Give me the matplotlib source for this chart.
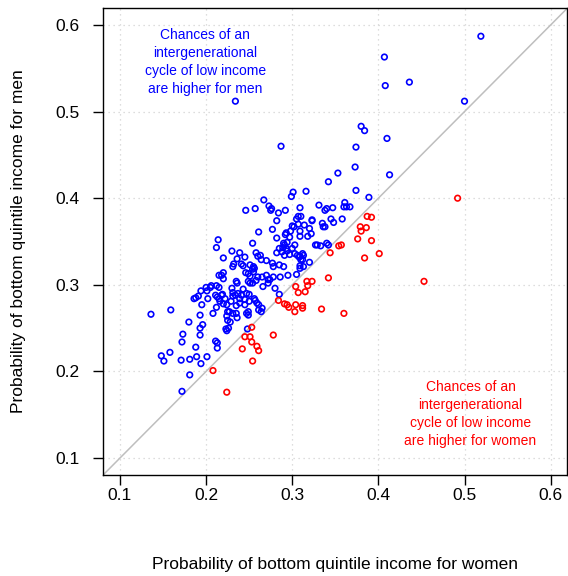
import matplotlib
matplotlib.use("Agg")
import matplotlib.pyplot as plt
import numpy as np

plt.rcParams['font.family'] = ['Liberation Sans', 'DejaVu Sans']

# probability of bottom quintile income: (women, men) per area
# areas where men's chances are higher
men_higher_women = [
    0.234, 0.407, 0.408, 0.436, 0.519, 0.500, 0.287,
    0.136, 0.159, 0.180, 0.173, 0.172, 0.148, 0.151, 0.158, 0.171, 0.181,
    0.188, 0.189, 0.194, 0.201, 0.181, 0.172, 0.193, 0.193, 0.196, 0.193,
    0.191, 0.195, 0.186, 0.188, 0.202, 0.201, 0.205, 0.208, 0.194, 0.200,
    0.206,
    0.214, 0.212, 0.220, 0.230, 0.239, 0.236, 0.232, 0.241, 0.243, 0.246,
    0.257, 0.261, 0.254, 0.258, 0.263, 0.256, 0.254, 0.255, 0.246, 0.249,
    0.220, 0.215, 0.218, 0.220, 0.249, 0.235, 0.236, 0.215, 0.212, 0.211,
    0.213, 0.215, 0.219, 0.220, 0.224, 0.216, 0.218, 0.222, 0.231, 0.231,
    0.234, 0.237, 0.239, 0.241, 0.247, 0.250, 0.251, 0.254, 0.256, 0.259,
    0.261, 0.266, 0.225, 0.224, 0.227, 0.225, 0.228, 0.223, 0.224, 0.211,
    0.213, 0.213, 0.212, 0.226, 0.235, 0.236, 0.247, 0.249, 0.261, 0.264,
    0.230, 0.243, 0.245, 0.239, 0.235, 0.229, 0.231, 0.245, 0.250, 0.249,
    0.257, 0.265, 0.265, 0.270, 0.272, 0.278, 0.286, 0.295, 0.305, 0.280,
    0.274, 0.258, 0.260, 0.251, 0.285, 0.248, 0.272,
    0.301, 0.299, 0.316, 0.267, 0.273, 0.275, 0.276, 0.284, 0.292, 0.309,
    0.282, 0.307, 0.305, 0.307, 0.302, 0.300, 0.309, 0.314, 0.320, 0.323,
    0.318, 0.322, 0.335, 0.336, 0.277, 0.293, 0.298, 0.292, 0.297, 0.294,
    0.290, 0.282, 0.282, 0.285, 0.289, 0.291, 0.293, 0.294, 0.288, 0.291,
    0.297, 0.300, 0.303, 0.303, 0.306, 0.308, 0.312, 0.312, 0.309, 0.313,
    0.320, 0.329, 0.333, 0.340, 0.245, 0.260, 0.264, 0.270, 0.277, 0.285,
    0.290, 0.278, 0.255, 0.251, 0.231,
    0.380, 0.384, 0.410, 0.374, 0.373, 0.353, 0.413, 0.342, 0.374, 0.389,
    0.361, 0.363, 0.367, 0.360, 0.331, 0.340, 0.338, 0.347, 0.310, 0.358,
    0.323, 0.345, 0.348, 0.338, 0.327, 0.342, 0.309, 0.313, 0.309, 0.310,
    0.309,
]
men_higher_men = [
    0.512, 0.563, 0.530, 0.534, 0.587, 0.512, 0.460,
    0.266, 0.271, 0.257, 0.243, 0.234, 0.218, 0.212, 0.222, 0.213, 0.214,
    0.228, 0.217, 0.209, 0.217, 0.196, 0.177, 0.265, 0.250, 0.254, 0.242,
    0.287, 0.277, 0.284, 0.285, 0.284, 0.293, 0.297, 0.267, 0.293, 0.297,
    0.299,
    0.352, 0.343, 0.331, 0.339, 0.337, 0.330, 0.324, 0.324, 0.322, 0.386,
    0.388, 0.361, 0.348, 0.337, 0.334, 0.319, 0.318, 0.315, 0.314, 0.313,
    0.314, 0.311, 0.311, 0.307, 0.304, 0.304, 0.302, 0.297, 0.299, 0.288,
    0.286, 0.284, 0.289, 0.278, 0.277, 0.281, 0.288, 0.284, 0.291, 0.287,
    0.288, 0.290, 0.284, 0.288, 0.290, 0.289, 0.302, 0.302, 0.284, 0.279,
    0.277, 0.298, 0.269, 0.264, 0.269, 0.259, 0.257, 0.249, 0.247, 0.235,
    0.233, 0.227, 0.274, 0.250, 0.267, 0.262, 0.267, 0.269, 0.271, 0.269,
    0.296, 0.295, 0.283, 0.279, 0.276, 0.281, 0.267, 0.277, 0.281, 0.265,
    0.282, 0.273, 0.309, 0.311, 0.306, 0.309, 0.309, 0.311, 0.312, 0.296,
    0.306, 0.305, 0.309, 0.310, 0.289, 0.249, 0.302,
    0.407, 0.402, 0.408, 0.398, 0.391, 0.386, 0.388, 0.383, 0.386, 0.389,
    0.374, 0.379, 0.376, 0.370, 0.367, 0.368, 0.362, 0.369, 0.365, 0.375,
    0.356, 0.359, 0.371, 0.367, 0.364, 0.360, 0.362, 0.358, 0.355, 0.349,
    0.348, 0.354, 0.337, 0.342, 0.343, 0.346, 0.342, 0.339, 0.338, 0.334,
    0.335, 0.342, 0.346, 0.336, 0.334, 0.332, 0.336, 0.329, 0.322, 0.321,
    0.326, 0.346, 0.345, 0.348, 0.332, 0.333, 0.329, 0.328, 0.325, 0.323,
    0.321, 0.321, 0.321, 0.323, 0.321,
    0.483, 0.478, 0.469, 0.459, 0.436, 0.429, 0.427, 0.419, 0.409, 0.401,
    0.395, 0.390, 0.390, 0.390, 0.392, 0.388, 0.386, 0.389, 0.379, 0.376,
    0.374, 0.376, 0.372, 0.367, 0.346, 0.346, 0.356, 0.334, 0.333, 0.329,
    0.319,
]

# areas where women's chances are higher
women_higher_women = [
    0.492, 0.453, 0.387, 0.392, 0.379, 0.386, 0.380, 0.376, 0.392, 0.384,
    0.401, 0.354, 0.357, 0.344, 0.342, 0.334, 0.360, 0.317, 0.323, 0.318,
    0.304, 0.307, 0.315, 0.284, 0.291, 0.294, 0.296, 0.304, 0.312, 0.312,
    0.303, 0.253, 0.245, 0.251, 0.253, 0.259, 0.261, 0.242, 0.278, 0.254,
    0.208, 0.224,
]
women_higher_men = [
    0.400, 0.304, 0.379, 0.378, 0.367, 0.366, 0.362, 0.353, 0.351, 0.331,
    0.336, 0.345, 0.346, 0.337, 0.308, 0.272, 0.267, 0.304, 0.304, 0.299,
    0.298, 0.291, 0.292, 0.282, 0.278, 0.277, 0.274, 0.277, 0.276, 0.273,
    0.269, 0.251, 0.240, 0.240, 0.234, 0.229, 0.224, 0.226, 0.242, 0.212,
    0.201, 0.176,
]

ticks = [0.1, 0.2, 0.3, 0.4, 0.5, 0.6]

fig = plt.figure(figsize=(5.68, 5.76), dpi=100)
ax = fig.add_axes([103 / 568, 1 - 475 / 576, 464 / 568, 467 / 576])

ax.set_xlim(0.0803, 0.619)
ax.set_ylim(0.0804, 0.6196)

# dotted grid
for t in ticks:
    ax.axvline(t, color='#d3d3d3', lw=0.9, ls=(0, (1, 3)), zorder=0)
    ax.axhline(t, color='#d3d3d3', lw=0.9, ls=(0, (1, 3)), zorder=0)

ax.axline((0, 0), slope=1, color='#bebebe', lw=1.1, zorder=1)

ax.scatter(men_higher_women, men_higher_men, s=16, facecolors='none',
           edgecolors='#0000ff', linewidths=1.2, zorder=3)
ax.scatter(women_higher_women, women_higher_men, s=16, facecolors='none',
           edgecolors='#ff0000', linewidths=1.2, zorder=3)

ax.text(0.199, 0.557, "Chances of an\nintergenerational\ncycle of low income\nare higher for men",
        color='#0000ff', fontsize=10, ha='center', va='center', linespacing=1.35)
ax.text(0.507, 0.151, "Chances of an\nintergenerational\ncycle of low income\nare higher for women",
        color='#ff0000', fontsize=10, ha='center', va='center', linespacing=1.35)

ax.set_xticks(ticks)
ax.set_yticks(ticks)
ax.set_xticklabels([str(t) for t in ticks])
ax.set_yticklabels([str(t) for t in ticks])
ax.tick_params(direction='out', length=7, width=1, labelsize=12.5)
ax.tick_params(axis='x', pad=2)
ax.tick_params(axis='y', pad=10)
for s in ax.spines.values():
    s.set_linewidth(1)

ax.set_xlabel("Probability of bottom quintile income for women", fontsize=12.5)
ax.set_ylabel("Probability of bottom quintile income for men", fontsize=12.5)
ax.xaxis.set_label_coords(0.5, -0.175)
ax.yaxis.set_label_coords(-0.165, 0.5)

fig.savefig("out.png", dpi=100)
